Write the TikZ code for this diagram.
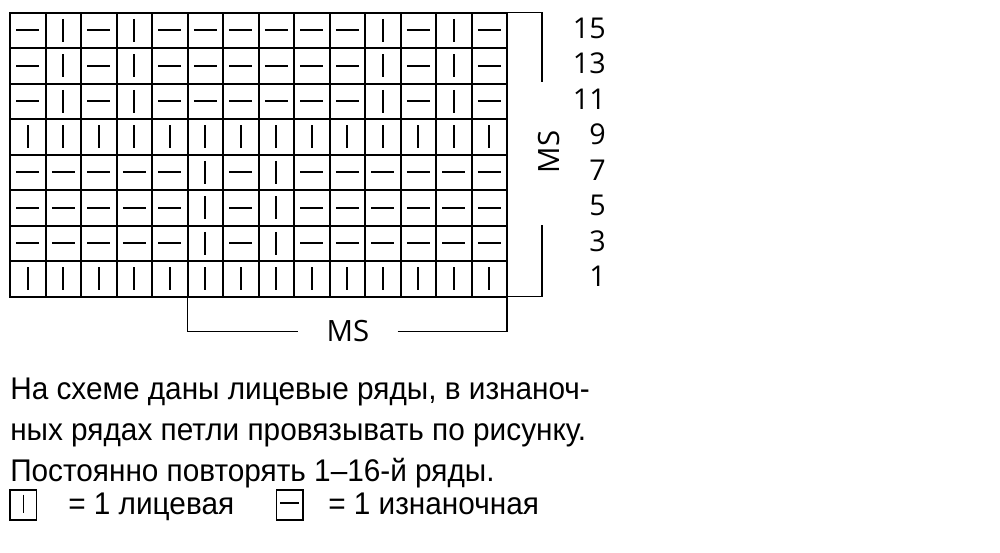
\documentclass[tikz,border=0pt]{standalone}
\usepackage{fontspec}
\setmainfont[FakeStretch=0.95]{Liberation Sans}
\newfontfamily\numfont{Open Sans}
\usetikzlibrary{positioning}
\tikzstyle{gridline} = [line width=1.5pt]
\tikzstyle{stitch} = [line width=1.7pt]
\tikzstyle{keystitch} = [line width=1.1pt]
\tikzstyle{bracket} = [line width=1.3pt]
\tikzstyle{rownum} = [anchor=east, inner sep=0pt, font=\numfont\fontsize{21.5}{21.5}\selectfont]
\tikzstyle{mslabel} = [inner xsep=21pt, inner ysep=0pt, font=\numfont\fontsize{22}{22}\selectfont]
\tikzstyle{txt} = [anchor=base west, inner sep=0pt, font=\fontsize{23.5}{23.5}\selectfont]
\tikzstyle{keybox} = [draw, line width=1pt, minimum width=20pt, minimum height=22.5pt, inner sep=0pt]
% one stitch in column #1, row #2 (rows counted from the top)
\newcommand\knit[2]{\draw[stitch] (35.5*#1-7.75,35.5*#2-16.75) -- ++(0,23);}
\newcommand\purl[2]{\draw[stitch] (35.5*#1-19.25,35.5*#2-5.25) -- ++(23,0);}

\begin{document}
\begin{tikzpicture}[x=0.75pt,y=-0.75pt]
  \useasboundingbox (0,0) rectangle (1000,553);

  % chart grid, 14 x 8 cells
  \coordinate (gtl) at (10,12.5);
  \coordinate (gtr) at (507,12.5);
  \coordinate (gbr) at (507,296.5);
  \coordinate (gb6) at (187.5,296.5);
  \draw[gridline] (gtl) rectangle (gbr);
  \foreach \c in {1,...,13}
    \draw[gridline] (10+35.5*\c,12.5) -- (10+35.5*\c,296.5);
  \foreach \r in {1,...,7}
    \draw[gridline] (10,12.5+35.5*\r) -- (507,12.5+35.5*\r);

  % stitches
  \foreach \r in {1,2,3} {
    \foreach \c in {2,4,11,13} {\knit{\c}{\r}}
    \foreach \c in {1,3,5,6,7,8,9,10,12,14} {\purl{\c}{\r}}
  }
  \foreach \r in {4,8} {
    \foreach \c in {1,...,14} {\knit{\c}{\r}}
  }
  \foreach \r in {5,6,7} {
    \foreach \c in {6,8} {\knit{\c}{\r}}
    \foreach \c in {1,2,3,4,5,7,9,10,11,12,13,14} {\purl{\c}{\r}}
  }

  % row numbers
  \foreach \n [count=\r] in {15,13,...,1}
    \node[rownum] (row\n) at (606,35.5*\r-7.25) {\n};

  % repeat brackets
  \coordinate (rt) at (542,81.7);
  \coordinate (rb) at (542,225);
  \draw[bracket] (gtr) -| (rt);
  \draw[bracket] (gbr) -| (rb);
  \node[mslabel, rotate=90] (msr) at (549,152) {MS};
  \node[mslabel] (msb) at (348,331.5) {MS};
  \draw[bracket] (gb6) |- (msb.west);
  \draw[bracket] (msb.east) -| (gbr);

  % notes
  \node[txt] (l1) at (10,399.3) {На схеме даны лицевые ряды, в изнаноч-};
  \node[txt] (l2) at (10,440.6) {ных рядах петли провязывать по рисунку.};
  \node[txt] (l3) at (10,481.7) {Постоянно повторять 1–16-й ряды.};

  % key
  \node[keybox] (kk) at (23.3,505) {};
  \draw[keystitch] ([yshift=-4pt]kk.north) -- ([yshift=6pt]kk.south);
  \node[txt] (kkt) at (68,514) {= 1 лицевая};
  \node[keybox] (kp) at (289.5,505) {};
  \draw[keystitch] ([xshift=3.5pt,yshift=1.5pt]kp.west) -- ([xshift=-3.5pt,yshift=1.5pt]kp.east);
  \node[txt] (kpt) at (328,514) {= 1 изнаночная};
\end{tikzpicture}
\end{document}
